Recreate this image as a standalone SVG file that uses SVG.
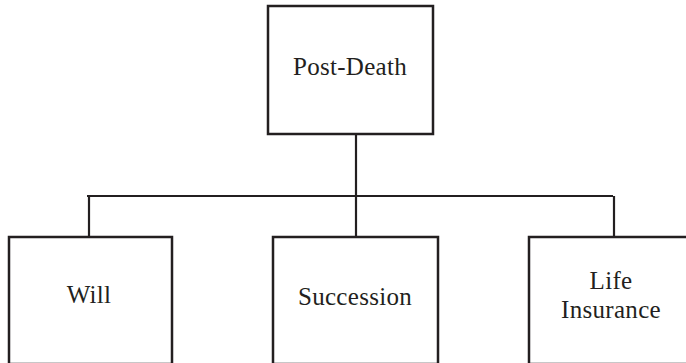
<svg xmlns="http://www.w3.org/2000/svg" width="686" height="363" viewBox="0 0 686 363">
<style>
.box{fill:#fff;stroke:#231f20;stroke-width:2.5}
.lbl{font-family:"Liberation Serif","Times New Roman",serif;font-size:25px;letter-spacing:0.3px;fill:#231f20;text-anchor:middle}
.con{stroke:#231f20;stroke-width:2.2;fill:none}
</style>
<rect width="686" height="363" fill="#fff"/>
<g id="connectors">
<line class="con" x1="356" y1="134" x2="356" y2="237"/>
<line class="con" x1="87" y1="196" x2="613" y2="196"/>
<line class="con" x1="89" y1="196" x2="89" y2="237"/>
<line class="con" x1="614" y1="196" x2="614" y2="237"/>
</g>
<g id="post-death">
<rect class="box" x="268" y="6" width="165" height="128"/>
<text class="lbl" x="350" y="75">Post-Death</text>
</g>
<g id="will">
<rect class="box" x="9" y="237" width="163" height="127"/>
<text class="lbl" x="89" y="303">Will</text>
</g>
<g id="succession">
<rect class="box" x="273" y="237" width="165" height="127"/>
<text class="lbl" x="355" y="305">Succession</text>
</g>
<g id="life-insurance">
<rect class="box" x="529" y="237" width="165" height="127"/>
<text class="lbl" x="611" y="289">Life</text>
<text class="lbl" x="611" y="318">Insurance</text>
</g>
</svg>
